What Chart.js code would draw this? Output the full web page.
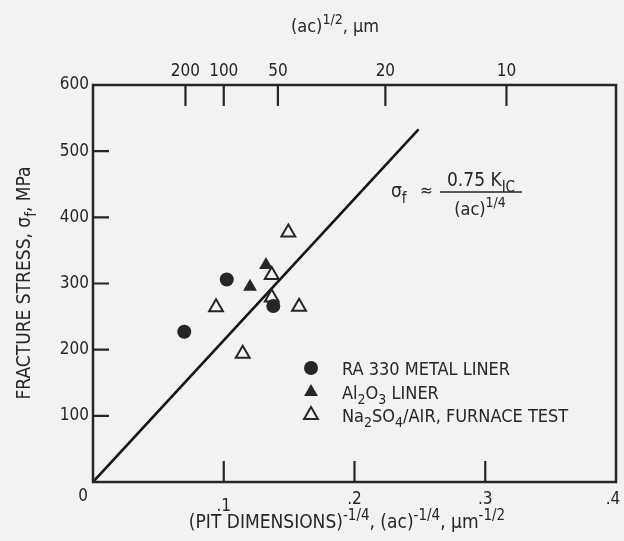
<!DOCTYPE html>
<html>
<head>
<meta charset="utf-8">
<script src="https://cdn.jsdelivr.net/npm/chart.js@4.4.1/dist/chart.umd.min.js"></script>
<style>
  html, body { margin: 0; padding: 0; background: #f2f2f0; }
  #wrap { width: 624px; height: 541px; }
</style>
</head>
<body>
<div id="wrap"><canvas id="chart" width="624" height="541"></canvas></div>
<script>
// axis ticks
const xTickValues = [0, 0.1, 0.2, 0.3, 0.4];
const xTickLabels = ['0', '.1', '.2', '.3', '.4'];
const yTickValues = [0, 100, 200, 300, 400, 500, 600];
const yTickLabels = ['', '100', '200', '300', '400', '500', '600'];
const topTickSizes = [200, 100, 50, 20, 10]; // (ac)^1/2 in um

// series
const metalLinerX = [0.0698, 0.1023, 0.1379];
const metalLinerY = [227, 306, 266];
const aluminaLinerX = [0.1201, 0.1323];
const aluminaLinerY = [295, 328];
const furnaceX = [0.0941, 0.1145, 0.1367, 0.1367, 0.1494, 0.1576];
const furnaceY = [264, 194, 313, 279, 377, 265];
const fitX = [0, 0.249];
const fitY = [0, 533];

const seriesLabels = ['RA 330 METAL LINER', 'Al_{2}O_{3} LINER', 'Na_{2}SO_{4}/AIR, FURNACE TEST'];
const xTitle = '(PIT DIMENSIONS)^{-1/4}, (ac)^{-1/4}, \u00b5m^{-1/2}';
const topTitle = '(ac)^{1/2}, \u00b5m';
const yTitle = 'FRACTURE STRESS, \u03c3_{f}, MPa';

const INK = '#262626';
const PAPER = '#f2f2f0';
const FONT = '"Liberation Sans Narrow", "DejaVu Sans Condensed", "Liberation Sans", sans-serif';

function pts(xs, ys) {
    return xs.map((x, i) => ({ x: x, y: ys[i] }));
}

function parseRich(str) {
    const runs = [];
    const re = /([_^])\{([^}]*)\}/g;
    let last = 0, m;
    while ((m = re.exec(str))) {
        if (m.index > last) runs.push({ t: str.slice(last, m.index), s: 0 });
        runs.push({ t: m[2], s: m[1] === '^' ? 1 : -1 });
        last = re.lastIndex;
    }
    if (last < str.length) runs.push({ t: str.slice(last), s: 0 });
    return runs;
}

function runFont(size, s) {
    return (s ? Math.round(size * 0.78) : size) + 'px ' + FONT;
}

function richWidth(ctx, str, size) {
    let w = 0;
    parseRich(str).forEach(r => {
        ctx.font = runFont(size, r.s);
        w += ctx.measureText(r.t).width;
    });
    return w;
}

// baseline-anchored text with sub/superscripts
function drawRich(ctx, str, x, y, size, align) {
    const w = richWidth(ctx, str, size);
    let cx = align === 'center' ? x - w / 2 : (align === 'right' ? x - w : x);
    ctx.textBaseline = 'alphabetic';
    ctx.textAlign = 'left';
    parseRich(str).forEach(r => {
        ctx.font = runFont(size, r.s);
        const dy = r.s > 0 ? -size * 0.42 : (r.s < 0 ? size * 0.3 : 0);
        ctx.fillText(r.t, cx, y + dy);
        cx += ctx.measureText(r.t).width;
    });
}

const decorPlugin = {
    id: 'decor',
    beforeDraw(chart) {
        const ctx = chart.ctx;
        ctx.save();
        ctx.fillStyle = PAPER;
        ctx.fillRect(0, 0, chart.width, chart.height);
        ctx.restore();
    },
    afterDraw(chart) {
        const ctx = chart.ctx;
        const a = chart.chartArea;
        const sx = chart.scales.x, sy = chart.scales.y, st = chart.scales.x2;
        ctx.save();
        ctx.strokeStyle = INK;
        ctx.fillStyle = INK;

        // frame
        ctx.lineWidth = 2.5;
        ctx.strokeRect(a.left, a.top, a.right - a.left, a.bottom - a.top);

        // inward ticks
        ctx.lineWidth = 2.2;
        ctx.beginPath();
        yTickValues.slice(1, -1).forEach(v => {
            const p = sy.getPixelForValue(v);
            ctx.moveTo(a.left, p); ctx.lineTo(a.left + 16, p);
        });
        xTickValues.slice(1, -1).forEach(v => {
            const p = sx.getPixelForValue(v);
            ctx.moveTo(p, a.bottom); ctx.lineTo(p, a.bottom - 21);
        });
        topTickSizes.forEach(s => {
            const p = st.getPixelForValue(1 / Math.sqrt(s));
            ctx.moveTo(p, a.top); ctx.lineTo(p, a.top + 21);
        });
        ctx.stroke();

        // bottom tick labels (the scan has .2/.3/.4 nudged up over the title)
        const drop = [15, 25, 18, 18, 18];
        const shift = [-10, 0, 0, 0, -3];
        ctx.font = '17px ' + FONT;
        ctx.textAlign = 'center';
        ctx.textBaseline = 'middle';
        xTickValues.forEach((v, i) => {
            ctx.fillText(xTickLabels[i], sx.getPixelForValue(v) + shift[i], a.bottom + drop[i]);
        });

        // axis titles
        drawRich(ctx, xTitle, 347, 528, 19, 'center');
        drawRich(ctx, topTitle, 335, 32, 18, 'center');
        ctx.save();
        ctx.translate(30, 283);
        ctx.rotate(-Math.PI / 2);
        drawRich(ctx, yTitle, 0, 0, 19, 'center');
        ctx.restore();

        // formula
        drawRich(ctx, '\u03c3_{f}', 391, 197, 19, 'left');
        drawRich(ctx, '\u2248', 420, 196, 17, 'left');
        ctx.lineWidth = 1.4;
        ctx.beginPath();
        ctx.moveTo(440, 192); ctx.lineTo(522, 192);
        ctx.stroke();
        drawRich(ctx, '0.75 K_{IC}', 481, 186, 19, 'center');
        drawRich(ctx, '(ac)^{1/4}', 480, 215, 18, 'center');

        // legend
        const styles = [
            { pointStyle: 'circle', radius: 7, fill: INK, borderWidth: 0 },
            { pointStyle: 'triangle', radius: 8, fill: INK, borderWidth: 0 },
            { pointStyle: 'triangle', radius: 8, fill: 'rgba(0,0,0,0)', borderWidth: 2 }
        ];
        const rowY = [368, 392, 415];
        seriesLabels.forEach((label, i) => {
            const st2 = styles[i];
            ctx.fillStyle = st2.fill;
            ctx.strokeStyle = INK;
            ctx.lineWidth = st2.borderWidth;
            Chart.helpers.drawPoint(ctx, { pointStyle: st2.pointStyle, radius: st2.radius, rotation: 0, borderWidth: st2.borderWidth }, 311, rowY[i]);
            ctx.fillStyle = INK;
            drawRich(ctx, label, 342, rowY[i] + 6.5, 18, 'left');
        });
        ctx.restore();
    }
};

const tickFont = { family: FONT, size: 17 };

new Chart(document.getElementById('chart'), {
    type: 'scatter',
    data: {
        datasets: [
            {
                label: seriesLabels[0],
                data: pts(metalLinerX, metalLinerY),
                pointStyle: 'circle', pointRadius: 7,
                backgroundColor: INK, borderColor: INK, borderWidth: 0
            },
            {
                label: seriesLabels[1],
                data: pts(aluminaLinerX, aluminaLinerY),
                pointStyle: 'triangle', pointRadius: 8,
                backgroundColor: INK, borderColor: INK, borderWidth: 0
            },
            {
                label: seriesLabels[2],
                data: pts(furnaceX, furnaceY),
                pointStyle: 'triangle', pointRadius: 8,
                backgroundColor: 'rgba(0,0,0,0)', borderColor: INK, borderWidth: 2
            },
            {
                type: 'line',
                label: 'fit',
                data: pts(fitX, fitY),
                borderColor: '#161616', borderWidth: 2.6,
                pointRadius: 0, showLine: true, fill: false, tension: 0
            }
        ]
    },
    options: {
        responsive: false,
        animation: false,
        devicePixelRatio: 1,
        layout: { padding: { top: 0, right: 8, bottom: 0, left: 0 }, autoPadding: false },
        plugins: {
            legend: { display: false },
            tooltip: { enabled: false }
        },
        scales: {
            x: {
                type: 'linear', position: 'bottom', min: 0, max: 0.4,
                afterBuildTicks: s => { s.ticks = xTickValues.map(v => ({ value: v })); },
                afterFit: s => { s.height = 59; s.paddingLeft = 0; s.paddingRight = 0; },
                grid: { display: false, drawTicks: false },
                border: { display: false },
                ticks: { display: false }
            },
            x2: {
                type: 'linear', position: 'top', min: 0, max: 0.4,
                afterBuildTicks: s => { s.ticks = topTickSizes.map(v => ({ value: 1 / Math.sqrt(v) })); },
                afterFit: s => { s.height = 85; s.paddingLeft = 0; s.paddingRight = 0; },
                grid: { display: false, drawTicks: false },
                border: { display: false },
                ticks: {
                    autoSkip: false, maxRotation: 0, padding: 3,
                    font: tickFont, color: INK,
                    callback: (v, i) => String(topTickSizes[i])
                }
            },
            y: {
                type: 'linear', position: 'left', min: 0, max: 600,
                afterBuildTicks: s => { s.ticks = yTickValues.map(v => ({ value: v })); },
                afterFit: s => { s.width = 93; s.paddingTop = 0; s.paddingBottom = 0; },
                grid: { display: false, drawTicks: false },
                border: { display: false },
                ticks: {
                    autoSkip: false, padding: 4,
                    font: tickFont, color: INK,
                    callback: (v, i) => yTickLabels[i]
                }
            }
        }
    },
    plugins: [decorPlugin]
});
</script>
</body>
</html>
